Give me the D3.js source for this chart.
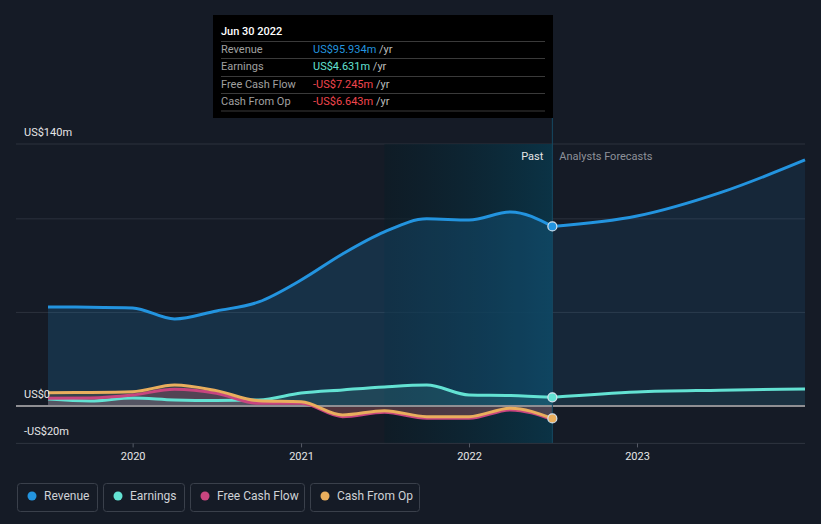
<!DOCTYPE html>
<html><head><meta charset="utf-8">
<script src="https://cdn.jsdelivr.net/npm/d3@7"></script>
<style>
html,body{margin:0;padding:0;background:#151b26;}
svg{display:block;font-family:Roboto,"Noto Sans",sans-serif;}
</style></head>
<body><svg id="c" width="821" height="524"></svg>
<script>
const pastDates = ["2019-06-30","2019-09-30","2019-12-31","2020-03-31","2020-06-30","2020-09-30","2020-12-31","2021-03-31","2021-06-30","2021-09-30","2021-12-31","2022-03-31","2022-06-30"];
const revenue  = [52.9, 52.8, 52.4, 46.5, 50.8, 55.6, 67.3, 81.2, 93.0, 100.0, 99.4, 103.7, 95.934];
const earnings = [3.7, 2.7, 4.3, 3.2, 2.9, 3.2, 6.9, 8.6, 10.2, 11.2, 5.9, 5.6, 4.631];
const freeCashFlow = [4.1, 4.3, 5.9, 8.9, 6.8, 1.4, 1.4, -5.7, -3.4, -6.6, -6.6, -2.1, -7.245];
const cashFromOp   = [7.1, 7.2, 7.6, 11.2, 8.2, 2.8, 2.3, -4.8, -2.5, -5.7, -5.7, -1.2, -6.643];
const forecastDates = ["2022-06-30","2022-12-31","2023-06-30","2023-12-31"];
const revenueForecast  = [95.934, 101.5, 114.0, 131.5];
const earningsForecast = [4.631, 7.5, 8.4, 9.1];
const gridValues = [-20, 0, 50, 100, 140];
const yLabels = [{v:140, t:"US$140m"}, {v:0, t:"US$0"}, {v:-20, t:"-US$20m"}];
const xTicks = ["2020-01-01","2021-01-01","2022-01-01","2023-01-01"];
const seriesNames = ["Revenue","Earnings","Free Cash Flow","Cash From Op"];
const seriesColors = ["#2394df","#63e2d3","#c8457f","#e9ae5d"];
const tipDate = "Jun 30 2022";
const tipValues = ["US$95.934m","US$4.631m","-US$7.245m","-US$6.643m"];

const P = d3.timeParse("%Y-%m-%d");
const svg = d3.select("#c");
const x = d3.scaleTime().domain([P("2019-06-30"), P("2023-12-31")]).range([48, 805]);
const y = d3.scaleLinear().domain([-20, 140]).range([443.4, 144]);
const left = 16, right = 805;

const defs = svg.append("defs");
const g1 = defs.append("linearGradient").attr("id","pastG").attr("x1","0").attr("x2","1").attr("y1","0").attr("y2","0");
g1.append("stop").attr("offset","0").attr("stop-color","#0b1c26").attr("stop-opacity",0.6);
g1.append("stop").attr("offset","1").attr("stop-color","#0a3447").attr("stop-opacity",0.95);

// grid
svg.selectAll(".grid").data(gridValues.filter(v=>v!==0)).enter().append("line")
  .attr("x1",left).attr("x2",right).attr("y1",d=>y(d)).attr("y2",d=>y(d))
  .attr("stroke","#2c323d").attr("stroke-width",1);

// past highlight
const xp0 = x(P("2021-06-30")), xp1 = x(P("2022-06-30"));
svg.append("rect").attr("x",xp0).attr("y",y(140)).attr("width",xp1-xp0).attr("height",y(-20)-y(140)).attr("fill","url(#pastG)");

const past = pastDates.map((d,i)=>({d:P(d), rev:revenue[i], earn:earnings[i], fcf:freeCashFlow[i], cfo:cashFromOp[i]}));
const fc = forecastDates.map((d,i)=>({d:P(d), rev:revenueForecast[i], earn:earningsForecast[i]}));
const curve = d3.curveMonotoneX;
function area(key){ return d3.area().x(d=>x(d.d)).y0(y(0)).y1(d=>y(d[key])).curve(curve); }
function line(key){ return d3.line().x(d=>x(d.d)).y(d=>y(d[key])).curve(curve); }

// areas
svg.append("path").datum(past).attr("d",area("rev")).attr("fill","#2394df").attr("fill-opacity",0.18);
svg.append("path").datum(fc).attr("d",area("rev")).attr("fill","#2394df").attr("fill-opacity",0.1);
svg.append("path").datum(past).attr("d",area("cfo")).attr("fill","#e9ae5d").attr("fill-opacity",0.15);
svg.append("path").datum(past).attr("d",area("fcf")).attr("fill","#c8457f").attr("fill-opacity",0.2);
svg.append("path").datum(past).attr("d",area("earn")).attr("fill","#63e2d3").attr("fill-opacity",0.12);
svg.append("path").datum(fc).attr("d",area("earn")).attr("fill","#63e2d3").attr("fill-opacity",0.06);

// zero line
svg.append("line").attr("x1",left).attr("x2",right).attr("y1",y(0)).attr("y2",y(0)).attr("stroke","#8f8f93").attr("stroke-width",2);

// lines
const lw = 3;
svg.append("path").datum(past).attr("d",line("earn")).attr("fill","none").attr("stroke",seriesColors[1]).attr("stroke-width",lw);
svg.append("path").datum(fc).attr("d",line("earn")).attr("fill","none").attr("stroke",seriesColors[1]).attr("stroke-width",lw);
svg.append("path").datum(past).attr("d",line("fcf")).attr("fill","none").attr("stroke",seriesColors[2]).attr("stroke-width",lw);
svg.append("path").datum(past).attr("d",line("cfo")).attr("fill","none").attr("stroke",seriesColors[3]).attr("stroke-width",lw);
svg.append("path").datum(past).attr("d",line("rev")).attr("fill","none").attr("stroke",seriesColors[0]).attr("stroke-width",lw);
svg.append("path").datum(fc).attr("d",line("rev")).attr("fill","none").attr("stroke",seriesColors[0]).attr("stroke-width",lw);

// vertical marker line
svg.append("line").attr("x1",xp1).attr("x2",xp1).attr("y1",118).attr("y2",y(-20)).attr("stroke","#164a63").attr("stroke-width",1);

// dots
const last = past[past.length-1];
[["rev",0],["earn",1],["cfo",3]].forEach(([k,i])=>{
  svg.append("circle").attr("cx",x(last.d)).attr("cy",y(last[k])).attr("r",4.5)
    .attr("fill",seriesColors[i]).attr("stroke","#d8e4ee").attr("stroke-width",1.2);
});

// bottom axis
svg.append("line").attr("x1",left).attr("x2",right).attr("y1",y(-20)).attr("y2",y(-20)).attr("stroke","#2c323d");
const xa = svg.append("g");
xTicks.forEach(t=>{
  const xx = x(P(t));
  xa.append("line").attr("x1",xx).attr("x2",xx).attr("y1",y(-20)).attr("y2",y(-20)+4).attr("stroke","#555b66");
  xa.append("text").attr("x",xx).attr("y",460).attr("text-anchor","middle").attr("fill","#e6e6e6").attr("font-size",11).text(t.slice(0,4));
});

// y labels
yLabels.forEach(l=>{
  svg.append("text").attr("x",24).attr("y",y(l.v)-8).attr("fill","#e6e6e6").attr("font-size",11).text(l.t);
});

// Past / forecast labels
svg.append("text").attr("x",xp1-9).attr("y",160).attr("text-anchor","end").attr("fill","#e6e6e6").attr("font-size",11).text("Past");
svg.append("text").attr("x",xp1+7).attr("y",160).attr("fill","#8d9199").attr("font-size",11).text("Analysts Forecasts");

// tooltip
const tip = svg.append("g");
tip.append("rect").attr("x",213).attr("y",15).attr("width",340).attr("height",103).attr("fill","#000");
tip.append("text").attr("x",221).attr("y",35).attr("fill","#fff").attr("font-size",11).attr("font-weight",500).text(tipDate);
const lineYs = [41.5, 58.5, 76.5, 93.5, 111];
lineYs.forEach(ly=>tip.append("line").attr("x1",221).attr("x2",545).attr("y1",ly).attr("y2",ly).attr("stroke","#3a3a3a"));
const tipColors = ["#2394df","#63e2d3","#f0464e","#f0464e"];
seriesNames.forEach((n,i)=>{
  const ty = [53,70,88,105][i];
  tip.append("text").attr("x",221).attr("y",ty).attr("fill","#a0a0a0").attr("font-size",11).text(n);
  const t = tip.append("text").attr("x",313).attr("y",ty).attr("font-size",11);
  t.append("tspan").attr("fill",tipColors[i]).text(tipValues[i]);
  t.append("tspan").attr("fill","#bdbdbd").text(" /yr");
});

// legend
const legX = [17,103,190,310], legW = [80,81,114,109];
seriesNames.forEach((n,i)=>{
  const gx = legX[i];
  svg.append("rect").attr("x",gx+0.5).attr("y",483.5).attr("width",legW[i]).attr("height",28).attr("rx",3)
    .attr("fill","none").attr("stroke","#3a404b");
  svg.append("circle").attr("cx",gx+15).attr("cy",496).attr("r",4.5).attr("fill",seriesColors[i]);
  svg.append("text").attr("x",gx+27).attr("y",500).attr("fill","#cfd2d6").attr("font-size",12).text(n);
});
</script></body></html>
